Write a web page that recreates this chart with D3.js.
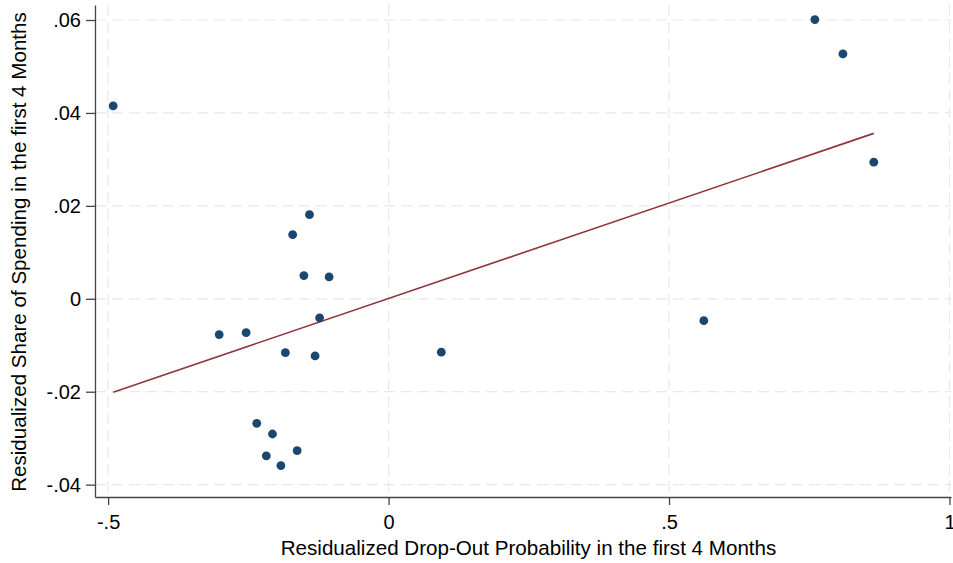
<!DOCTYPE html>
<html><head><meta charset="utf-8">
<script src="https://cdn.jsdelivr.net/npm/d3@7"></script>
<style>body{margin:0;background:#fff}svg{display:block}text{font-family:"Liberation Sans",Arial,sans-serif;fill:#000}</style>
</head><body>
<script>
const xVals = [-0.491, 0.760, 0.810, 0.865, 0.562, 0.094, -0.141, -0.171, -0.151, -0.106, -0.123, -0.302, -0.254, -0.184, -0.131, -0.235, -0.207, -0.218, -0.163, -0.192];
const yVals = [0.0415, 0.0601, 0.0527, 0.0294, -0.0047, -0.0115, 0.0181, 0.0138, 0.0050, 0.0047, -0.0041, -0.0077, -0.0073, -0.0116, -0.0123, -0.0268, -0.0291, -0.0338, -0.0327, -0.0359];
const fitX = [-0.491, 0.865];
const fitY = [-0.0201, 0.0356];
const xTicks = [-0.5, 0, 0.5, 1];
const xTickLabels = ["-.5", "0", ".5", "1"];
const yTicks = [-0.04, -0.02, 0, 0.02, 0.04, 0.06];
const yTickLabels = ["-.04", "-.02", "0", ".02", ".04", ".06"];
const xTitle = "Residualized Drop-Out Probability in the first 4 Months";
const yTitle = "Residualized Share of Spending in the first 4 Months";

const W = 953, H = 563;
const mLeft = 95, mRight = 951, mTop = 5, mBottom = 497;
const x = d3.scaleLinear().domain([-0.5234, 1.0027]).range([mLeft, mRight]);
const y = d3.scaleLinear().domain([-0.04266, 0.06323]).range([mBottom, mTop]);

const svg = d3.select("body").append("svg").attr("width", W).attr("height", H);

// gridlines
const grid = svg.append("g").attr("stroke", "#e8e8e8").attr("stroke-width", 1.2).attr("stroke-dasharray", "11,6");
grid.selectAll("line.h").data(yTicks).join("line").attr("class","h")
  .attr("x1", mLeft).attr("x2", mRight).attr("y1", d => y(d)).attr("y2", d => y(d));
grid.selectAll("line.v").data(xTicks).join("line").attr("class","v")
  .attr("x1", d => x(d)).attr("x2", d => x(d)).attr("y1", mTop).attr("y2", mBottom);

// axes
const xAxis = d3.axisBottom(x).tickValues(xTicks).tickFormat((d,i) => xTickLabels[i]).tickSize(8).tickPadding(10).tickSizeOuter(0);
const gx = svg.append("g").attr("transform", `translate(0,${mBottom})`).call(xAxis);
gx.attr("font-size", null).attr("font-family", null);
gx.selectAll("text").style("font-size", "20px");
const yAxis = d3.axisLeft(y).tickValues(yTicks).tickFormat((d,i) => yTickLabels[i]).tickSize(9).tickPadding(5).tickSizeOuter(0);
const gy = svg.append("g").attr("transform", `translate(${mLeft},0)`).call(yAxis);
gy.attr("font-size", null).attr("font-family", null);
gy.selectAll("text").style("font-size", "20px");
svg.selectAll(".domain, .tick line").attr("stroke", "#444").attr("stroke-width", 1.3);

// fit line
svg.append("path").datum(fitX.map((d,i) => [d, fitY[i]]))
  .attr("d", d3.line().x(d => x(d[0])).y(d => y(d[1])))
  .attr("fill", "none").attr("stroke", "#90353b").attr("stroke-width", 1.6);

// points
svg.append("g").selectAll("circle").data(xVals.map((d,i) => [d, yVals[i]])).join("circle")
  .attr("cx", d => x(d[0])).attr("cy", d => y(d[1])).attr("r", 4.4).attr("fill", "#1a476f");

// titles
svg.append("text").attr("x", 528.5).attr("y", 555).attr("text-anchor", "middle").style("font-size", "20.6px").text(xTitle);
svg.append("text").attr("transform", "translate(26,252) rotate(-90)").attr("text-anchor", "middle").style("font-size", "20.6px").text(yTitle);
</script>
</body></html>
